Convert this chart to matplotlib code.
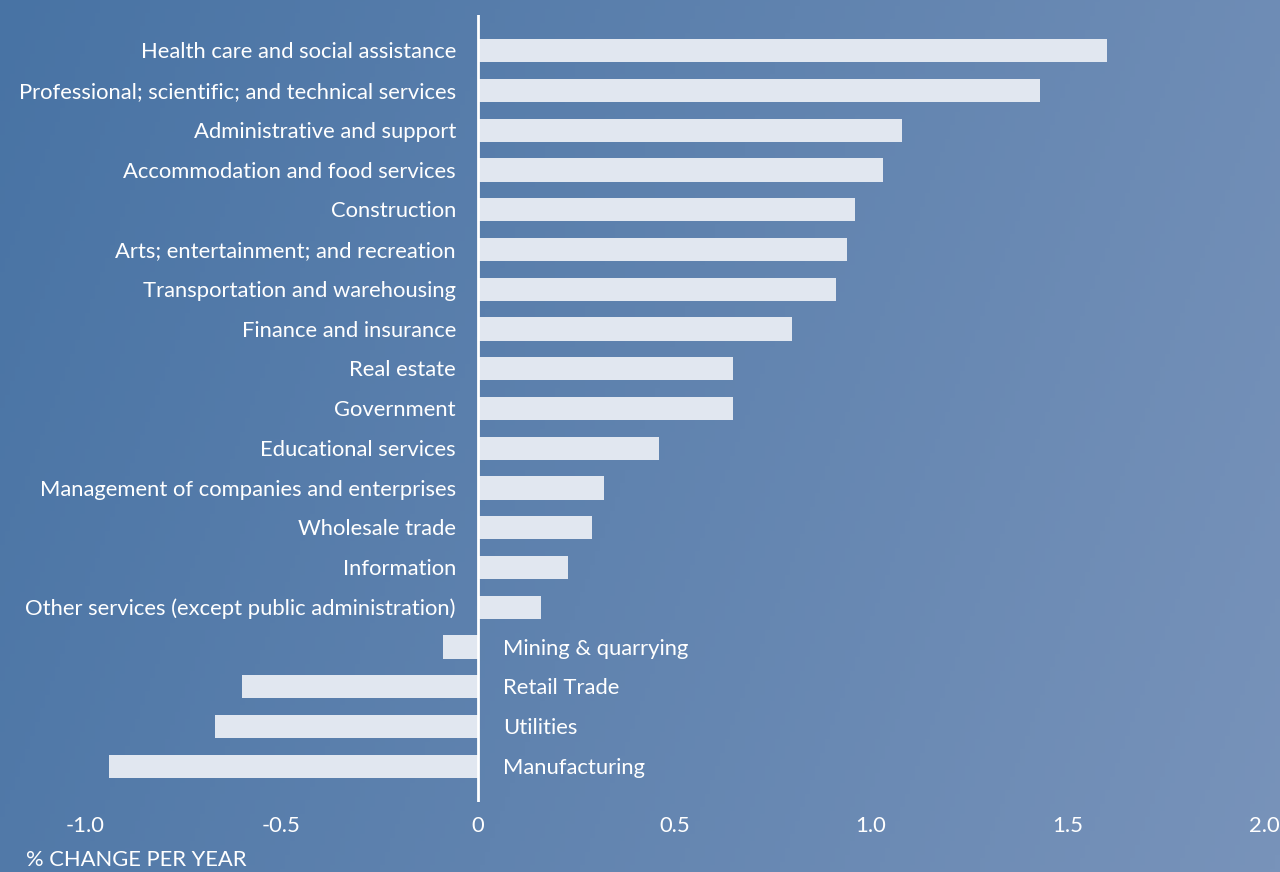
import numpy as np
import matplotlib.pyplot as plt
from matplotlib.colors import LinearSegmentedColormap

# 数据
categories = [
    'Health care and social assistance',
    'Professional; scientific; and technical services',
    'Administrative and support',
    'Accommodation and food services',
    'Construction',
    'Arts; entertainment; and recreation',
    'Transportation and warehousing',
    'Finance and insurance',
    'Real estate',
    'Government',
    'Educational services',
    'Management of companies and enterprises',
    'Wholesale trade',
    'Information',
    'Other services (except public administration)',
    'Mining & quarrying',
    'Retail Trade',
    'Utilities',
    'Manufacturing',
]
values = [1.60, 1.43, 1.08, 1.03, 0.96, 0.94, 0.91, 0.80, 0.65, 0.65,
          0.46, 0.32, 0.29, 0.23, 0.16, -0.09, -0.60, -0.67, -0.94]
tick_values = [-1.0, -0.5, 0, 0.5, 1.0, 1.5, 2.0]
tick_labels = ['-1.0', '-0.5', '0', '0.5', '1.0', '1.5', '2.0']

plt.rcParams['font.family'] = ['Lato', 'DejaVu Sans']
FS = 15.8

fig = plt.figure(figsize=(12.8, 8.72), dpi=100)

# 背景渐变
bg = fig.add_axes([0, 0, 1, 1])
xx, yy = np.meshgrid(np.linspace(0, 1, 256), np.linspace(0, 1, 256))
grad = 0.8 * xx + 0.2 * yy
cmap = LinearSegmentedColormap.from_list('bg', ['#4873a4', '#7893ba'])
bg.imshow(grad, cmap=cmap, aspect='auto', extent=[0, 1, 0, 1], origin='upper')
bg.axis('off')

ax = fig.add_axes([0, 1 - 802 / 872, 1, (802 - 15) / 872])
ax.patch.set_alpha(0)
y = np.arange(len(categories))
ax.barh(y, values, height=0.58, color='#e1e7f0', zorder=2)
ax.axvline(0, color='white', linewidth=2, zorder=3)

ax.set_xlim(-478 / 393, 802 / 393)
ax.set_ylim(len(categories) - 0.1, -0.9)

for yi, v, cat in zip(y, values, categories):
    if v >= 0:
        ax.text(-0.056, yi + 0.04, cat, ha='right', va='center', color='white',
                fontsize=FS)
    else:
        ax.text(0.064, yi + 0.04, cat, ha='left', va='center', color='white',
                fontsize=FS)

ax.set_yticks([])
ax.set_xticks(tick_values)
ax.set_xticklabels(tick_labels, color='white', fontsize=FS)
ax.tick_params(axis='x', length=0, pad=10)
for s in ax.spines.values():
    s.set_visible(False)

fig.text(26 / 1280, 1 - 860 / 872, '% CHANGE PER YEAR', color='white', fontsize=FS,
         ha='left', va='center')

plt.savefig('out.png', dpi=100)
plt.close()
